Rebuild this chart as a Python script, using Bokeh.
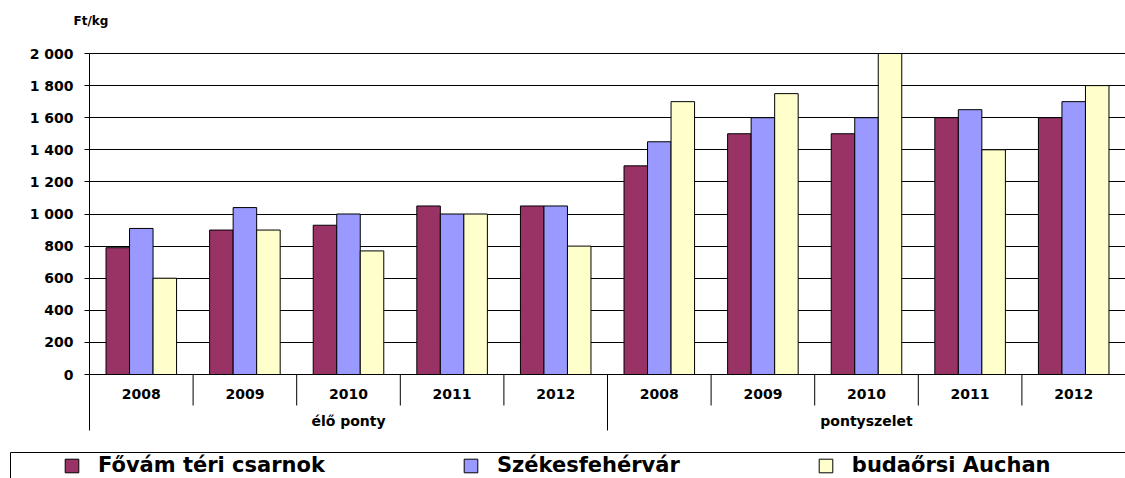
from bokeh.plotting import figure
from bokeh.models import (ColumnDataSource, Range1d, FixedTicker, Legend, LegendItem,
                          BoxAnnotation)
from bokeh.embed import file_html
from bokeh.resources import INLINE
from bokeh.core.properties import value

# ---------------- data ----------------
groups = ["élő ponty", "pontyszelet"]
years = ["2008", "2009", "2010", "2011", "2012"]
series_names = ["Fővám téri csarnok", "Székesfehérvár", "budaőrsi Auchan"]
fovam = [790, 900, 930, 1050, 1050, 1300, 1500, 1500, 1600, 1600]
szekesfehervar = [910, 1040, 1000, 1000, 1050, 1450, 1600, 1600, 1650, 1700]
auchan = [600, 900, 770, 1000, 800, 1700, 1750, 2000, 1400, 1800]
y_ticks = [0, 200, 400, 600, 800, 1000, 1200, 1400, 1600, 1800, 2000]
y_unit = "Ft/kg"
colors = ["#993366", "#9999FF", "#FFFFCC"]

# ---------------- layout constants ----------------
FONT = "DejaVu Sans"
W = 1125
LEFT = 89            # pixel position of the value axis
TOP = 35
PAD_TOP_PX = 18      # frame top -> 2000 line
PLOT_PX = 321        # 2000 line -> 0 line
BELOW_PX = 104       # 0 line -> frame bottom
k = PLOT_PX / 2000.0
y_end = 2000 + PAD_TOP_PX / k
y_start = -BELOW_PX / k
H = TOP + PAD_TOP_PX + PLOT_PX + BELOW_PX

n_cat = len(groups) * len(years)
CAT_PX = (W - LEFT) / n_cat
x_start = -LEFT / CAT_PX
x_end = n_cat

YEAR_LABEL_PX = 19
YEAR_SEP_PX = 31
GROUP_LABEL_PX = 46
GROUP_SEP_PX = 56
BW = 0.227

# category positions (one unit per year inside each group)
cat_group = [g for g in groups for _ in years]
cat_year = [y for _ in groups for y in years]
cat_x = [i + 0.5 for i in range(n_cat)]

p = figure(x_range=Range1d(x_start, x_end), y_range=Range1d(y_start, y_end),
           width=W, height=H, output_backend="svg", toolbar_location=None,
           x_axis_location=None, min_border_left=0, min_border_right=0,
           min_border_top=TOP, min_border_bottom=0, outline_line_color=None,
           title=y_unit)

p.title.align = "left"
p.title.offset = 73
p.title.standoff = 16
p.title.text_font = FONT
p.title.text_font_style = "bold"
p.title.text_font_size = "12px"
p.title.text_color = "black"

# y axis drawn at the start of the category axis
ya = p.yaxis[0]
ya.fixed_location = 0
ya.ticker = FixedTicker(ticks=y_ticks)
ya.bounds = (0, 2000)
ya.major_label_overrides = {t: f"{t:,}".replace(",", " ") for t in y_ticks}
ya.major_tick_in = 0
ya.major_tick_out = 5
ya.minor_tick_in = 0
ya.minor_tick_out = 0
ya.axis_line_color = "black"
ya.major_tick_line_color = "black"
ya.major_label_standoff = 11
ya.major_label_text_font = FONT
ya.major_label_text_font_style = "bold"
ya.major_label_text_font_size = "14px"
ya.major_label_text_color = "black"

p.xgrid.visible = False
p.ygrid.ticker = FixedTicker(ticks=y_ticks)
p.ygrid.bounds = (0, 2000)
p.ygrid.cross_bounds = (0, n_cat)
p.ygrid.grid_line_color = "black"
p.ygrid.grid_line_width = 1

# bars
src = ColumnDataSource(dict(x=cat_x, group=cat_group, year=cat_year,
                            fovam=fovam, szfv=szekesfehervar, auchan=auchan))
cols = ["fovam", "szfv", "auchan"]
bar_r = []
for i, (col, c) in enumerate(zip(cols, colors)):
    src.data[f"x{i}"] = [x + (i - 1) * BW for x in cat_x]
    bar_r.append(p.vbar(x=f"x{i}", top=col, bottom=0, width=BW, source=src,
                        fill_color=c, line_color="black", line_width=1))

# category separators
sep_x = list(range(n_cat + 1))
sep_y1 = [-(GROUP_SEP_PX if i % len(years) == 0 else YEAR_SEP_PX) / k for i in sep_x]
p.segment(x0="x", y0=0, x1="x", y1="y1", source=ColumnDataSource(dict(x=sep_x, y1=sep_y1)),
          line_color="black", line_width=1)

# category labels
p.text(x="x", y=0, text="year", source=src, y_offset=YEAR_LABEL_PX,
       text_font=value(FONT), text_font_style="bold", text_font_size="14px",
       text_align="center", text_baseline="middle", text_color="black")
grp_x = [sum(cat_x[j * len(years):(j + 1) * len(years)]) / len(years) for j in range(len(groups))]
p.text(x="x", y=0, text="t", source=ColumnDataSource(dict(x=grp_x, t=groups)),
       y_offset=GROUP_LABEL_PX, text_font=value(FONT), text_font_style="bold",
       text_font_size="14px", text_align="center", text_baseline="middle", text_color="black")

# ---------------- legend ----------------
legend = Legend(items=[LegendItem(label=n, renderers=[r]) for n, r in zip(series_names, bar_r)],
                orientation="horizontal", location=(63, 1), padding=0, spacing=137,
                label_standoff=18, glyph_width=17, glyph_height=17, label_height=17,
                border_line_alpha=0, background_fill_alpha=0, margin=0,
                label_text_font=FONT, label_text_font_style="bold",
                label_text_font_size="21px", label_text_color="black")
p.add_layout(legend)

legend_box = BoxAnnotation(left=10, right=1300, top=452, bottom=520,
                           left_units="canvas", right_units="canvas",
                           top_units="canvas", bottom_units="canvas",
                           fill_alpha=0, line_color="black", line_width=1, line_alpha=1)
p.add_layout(legend_box)

open("out.html", "w").write(file_html(p, INLINE))
